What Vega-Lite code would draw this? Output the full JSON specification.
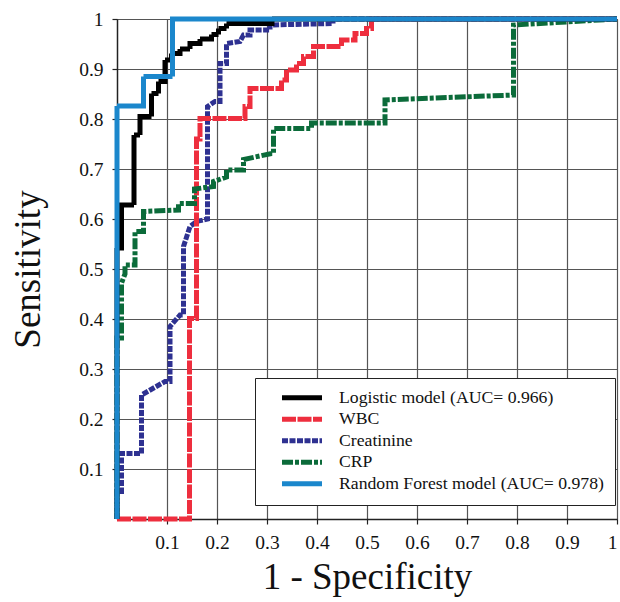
{
  "$schema": "https://vega.github.io/schema/vega-lite/v6.json",
  "width": 500,
  "height": 500,
  "autosize": "none",
  "padding": {"left": 117, "top": 19, "right": 3, "bottom": 83},
  "background": "white",
  "config": {
    "view": {"stroke": "#444", "strokeWidth": 1},
    "axis": {
      "labelFont": "Liberation Serif",
      "labelFontSize": 19.5,
      "labelColor": "#111",
      "titleFont": "Liberation Serif",
      "titleFontSize": 37,
      "titleFontWeight": "normal",
      "titleColor": "#111",
      "gridColor": "#555",
      "gridWidth": 1.2,
      "domainColor": "#222",
      "domainWidth": 1.5,
      "tickColor": "#222",
      "tickSize": 5,
      "tickWidth": 1.2
    },
    "legend": {
      "labelFont": "Liberation Serif",
      "labelFontSize": 17.7,
      "labelColor": "#111",
      "symbolType": "M-1.77,0H6.23",
      "symbolSize": 100,
      "symbolStrokeWidth": 5,
      "labelOffset": 39.3,
      "rowPadding": 0.5,
      "padding": 11,
      "strokeColor": "#222",
      "fillColor": "white",
      "labelLimit": 400,
      "titleOrient": "left",
      "titleFontSize": 8,
      "titlePadding": 16,
      "titleColor": "white"
    }
  },
  "datasets": {
    "roc": [
      {"s": "Logistic model (AUC= 0.966)", "i": 0, "x": 0, "y": 0},
      {"s": "Logistic model (AUC= 0.966)", "i": 1, "x": 0, "y": 0.542},
      {"s": "Logistic model (AUC= 0.966)", "i": 2, "x": 0.009, "y": 0.542},
      {"s": "Logistic model (AUC= 0.966)", "i": 3, "x": 0.009, "y": 0.628},
      {"s": "Logistic model (AUC= 0.966)", "i": 4, "x": 0.034, "y": 0.628},
      {"s": "Logistic model (AUC= 0.966)", "i": 5, "x": 0.034, "y": 0.768},
      {"s": "Logistic model (AUC= 0.966)", "i": 6, "x": 0.046, "y": 0.768},
      {"s": "Logistic model (AUC= 0.966)", "i": 7, "x": 0.046, "y": 0.805},
      {"s": "Logistic model (AUC= 0.966)", "i": 8, "x": 0.069, "y": 0.805},
      {"s": "Logistic model (AUC= 0.966)", "i": 9, "x": 0.069, "y": 0.851},
      {"s": "Logistic model (AUC= 0.966)", "i": 10, "x": 0.083, "y": 0.851},
      {"s": "Logistic model (AUC= 0.966)", "i": 11, "x": 0.083, "y": 0.875},
      {"s": "Logistic model (AUC= 0.966)", "i": 12, "x": 0.096, "y": 0.875},
      {"s": "Logistic model (AUC= 0.966)", "i": 13, "x": 0.096, "y": 0.918},
      {"s": "Logistic model (AUC= 0.966)", "i": 14, "x": 0.109, "y": 0.918},
      {"s": "Logistic model (AUC= 0.966)", "i": 15, "x": 0.109, "y": 0.931},
      {"s": "Logistic model (AUC= 0.966)", "i": 16, "x": 0.126, "y": 0.931},
      {"s": "Logistic model (AUC= 0.966)", "i": 17, "x": 0.126, "y": 0.94},
      {"s": "Logistic model (AUC= 0.966)", "i": 18, "x": 0.146, "y": 0.94},
      {"s": "Logistic model (AUC= 0.966)", "i": 19, "x": 0.146, "y": 0.951},
      {"s": "Logistic model (AUC= 0.966)", "i": 20, "x": 0.166, "y": 0.951},
      {"s": "Logistic model (AUC= 0.966)", "i": 21, "x": 0.166, "y": 0.96},
      {"s": "Logistic model (AUC= 0.966)", "i": 22, "x": 0.189, "y": 0.96},
      {"s": "Logistic model (AUC= 0.966)", "i": 23, "x": 0.189, "y": 0.969},
      {"s": "Logistic model (AUC= 0.966)", "i": 24, "x": 0.203, "y": 0.969},
      {"s": "Logistic model (AUC= 0.966)", "i": 25, "x": 0.203, "y": 0.981},
      {"s": "Logistic model (AUC= 0.966)", "i": 26, "x": 0.219, "y": 0.981},
      {"s": "Logistic model (AUC= 0.966)", "i": 27, "x": 0.219, "y": 0.991},
      {"s": "Logistic model (AUC= 0.966)", "i": 28, "x": 0.31, "y": 0.991},
      {"s": "Logistic model (AUC= 0.966)", "i": 29, "x": 0.31, "y": 1},
      {"s": "Logistic model (AUC= 0.966)", "i": 30, "x": 1, "y": 1},

      {"s": "WBC", "i": 0, "x": 0, "y": 0},
      {"s": "WBC", "i": 1, "x": 0.145, "y": 0},
      {"s": "WBC", "i": 2, "x": 0.145, "y": 0.401},
      {"s": "WBC", "i": 3, "x": 0.159, "y": 0.401},
      {"s": "WBC", "i": 4, "x": 0.159, "y": 0.76},
      {"s": "WBC", "i": 5, "x": 0.166, "y": 0.76},
      {"s": "WBC", "i": 6, "x": 0.166, "y": 0.801},
      {"s": "WBC", "i": 7, "x": 0.256, "y": 0.801},
      {"s": "WBC", "i": 8, "x": 0.256, "y": 0.825},
      {"s": "WBC", "i": 9, "x": 0.266, "y": 0.825},
      {"s": "WBC", "i": 10, "x": 0.266, "y": 0.861},
      {"s": "WBC", "i": 11, "x": 0.329, "y": 0.861},
      {"s": "WBC", "i": 12, "x": 0.329, "y": 0.878},
      {"s": "WBC", "i": 13, "x": 0.339, "y": 0.878},
      {"s": "WBC", "i": 14, "x": 0.339, "y": 0.898},
      {"s": "WBC", "i": 15, "x": 0.359, "y": 0.898},
      {"s": "WBC", "i": 16, "x": 0.359, "y": 0.911},
      {"s": "WBC", "i": 17, "x": 0.373, "y": 0.911},
      {"s": "WBC", "i": 18, "x": 0.373, "y": 0.925},
      {"s": "WBC", "i": 19, "x": 0.393, "y": 0.925},
      {"s": "WBC", "i": 20, "x": 0.393, "y": 0.945},
      {"s": "WBC", "i": 21, "x": 0.449, "y": 0.945},
      {"s": "WBC", "i": 22, "x": 0.449, "y": 0.958},
      {"s": "WBC", "i": 23, "x": 0.476, "y": 0.958},
      {"s": "WBC", "i": 24, "x": 0.476, "y": 0.971},
      {"s": "WBC", "i": 25, "x": 0.499, "y": 0.971},
      {"s": "WBC", "i": 26, "x": 0.499, "y": 0.981},
      {"s": "WBC", "i": 27, "x": 0.509, "y": 0.981},
      {"s": "WBC", "i": 28, "x": 0.509, "y": 1},
      {"s": "WBC", "i": 29, "x": 1, "y": 1},

      {"s": "Creatinine", "i": 0, "x": 0, "y": 0},
      {"s": "Creatinine", "i": 1, "x": 0, "y": 0.055},
      {"s": "Creatinine", "i": 2, "x": 0.009, "y": 0.055},
      {"s": "Creatinine", "i": 3, "x": 0.009, "y": 0.131},
      {"s": "Creatinine", "i": 4, "x": 0.049, "y": 0.131},
      {"s": "Creatinine", "i": 5, "x": 0.049, "y": 0.248},
      {"s": "Creatinine", "i": 6, "x": 0.096, "y": 0.275},
      {"s": "Creatinine", "i": 7, "x": 0.106, "y": 0.275},
      {"s": "Creatinine", "i": 8, "x": 0.106, "y": 0.385},
      {"s": "Creatinine", "i": 9, "x": 0.126, "y": 0.408},
      {"s": "Creatinine", "i": 10, "x": 0.133, "y": 0.408},
      {"s": "Creatinine", "i": 11, "x": 0.133, "y": 0.545},
      {"s": "Creatinine", "i": 12, "x": 0.146, "y": 0.585},
      {"s": "Creatinine", "i": 13, "x": 0.159, "y": 0.595},
      {"s": "Creatinine", "i": 14, "x": 0.181, "y": 0.6},
      {"s": "Creatinine", "i": 15, "x": 0.181, "y": 0.825},
      {"s": "Creatinine", "i": 16, "x": 0.196, "y": 0.835},
      {"s": "Creatinine", "i": 17, "x": 0.206, "y": 0.835},
      {"s": "Creatinine", "i": 18, "x": 0.206, "y": 0.911},
      {"s": "Creatinine", "i": 19, "x": 0.219, "y": 0.911},
      {"s": "Creatinine", "i": 20, "x": 0.219, "y": 0.951},
      {"s": "Creatinine", "i": 21, "x": 0.246, "y": 0.955},
      {"s": "Creatinine", "i": 22, "x": 0.253, "y": 0.968},
      {"s": "Creatinine", "i": 23, "x": 0.266, "y": 0.968},
      {"s": "Creatinine", "i": 24, "x": 0.266, "y": 0.978},
      {"s": "Creatinine", "i": 25, "x": 0.306, "y": 0.978},
      {"s": "Creatinine", "i": 26, "x": 0.306, "y": 0.988},
      {"s": "Creatinine", "i": 27, "x": 0.432, "y": 0.991},
      {"s": "Creatinine", "i": 28, "x": 0.432, "y": 1},
      {"s": "Creatinine", "i": 29, "x": 1, "y": 1},

      {"s": "CRP", "i": 0, "x": 0, "y": 0},
      {"s": "CRP", "i": 1, "x": 0, "y": 0.362},
      {"s": "CRP", "i": 2, "x": 0.009, "y": 0.362},
      {"s": "CRP", "i": 3, "x": 0.009, "y": 0.472},
      {"s": "CRP", "i": 4, "x": 0.016, "y": 0.49},
      {"s": "CRP", "i": 5, "x": 0.016, "y": 0.508},
      {"s": "CRP", "i": 6, "x": 0.036, "y": 0.508},
      {"s": "CRP", "i": 7, "x": 0.036, "y": 0.575},
      {"s": "CRP", "i": 8, "x": 0.053, "y": 0.575},
      {"s": "CRP", "i": 9, "x": 0.053, "y": 0.615},
      {"s": "CRP", "i": 10, "x": 0.123, "y": 0.618},
      {"s": "CRP", "i": 11, "x": 0.123, "y": 0.631},
      {"s": "CRP", "i": 12, "x": 0.155, "y": 0.631},
      {"s": "CRP", "i": 13, "x": 0.155, "y": 0.66},
      {"s": "CRP", "i": 14, "x": 0.193, "y": 0.665},
      {"s": "CRP", "i": 15, "x": 0.193, "y": 0.675},
      {"s": "CRP", "i": 16, "x": 0.219, "y": 0.684},
      {"s": "CRP", "i": 17, "x": 0.219, "y": 0.698},
      {"s": "CRP", "i": 18, "x": 0.253, "y": 0.698},
      {"s": "CRP", "i": 19, "x": 0.253, "y": 0.719},
      {"s": "CRP", "i": 20, "x": 0.309, "y": 0.731},
      {"s": "CRP", "i": 21, "x": 0.313, "y": 0.731},
      {"s": "CRP", "i": 22, "x": 0.313, "y": 0.781},
      {"s": "CRP", "i": 23, "x": 0.389, "y": 0.781},
      {"s": "CRP", "i": 24, "x": 0.389, "y": 0.792},
      {"s": "CRP", "i": 25, "x": 0.536, "y": 0.792},
      {"s": "CRP", "i": 26, "x": 0.536, "y": 0.838},
      {"s": "CRP", "i": 27, "x": 0.793, "y": 0.848},
      {"s": "CRP", "i": 28, "x": 0.793, "y": 0.988},
      {"s": "CRP", "i": 29, "x": 1, "y": 1},

      {"s": "Random Forest model (AUC= 0.978)", "i": 0, "x": 0, "y": 0},
      {"s": "Random Forest model (AUC= 0.978)", "i": 1, "x": 0, "y": 0.826},
      {"s": "Random Forest model (AUC= 0.978)", "i": 2, "x": 0.053, "y": 0.826},
      {"s": "Random Forest model (AUC= 0.978)", "i": 3, "x": 0.053, "y": 0.885},
      {"s": "Random Forest model (AUC= 0.978)", "i": 4, "x": 0.111, "y": 0.885},
      {"s": "Random Forest model (AUC= 0.978)", "i": 5, "x": 0.111, "y": 1},
      {"s": "Random Forest model (AUC= 0.978)", "i": 6, "x": 1, "y": 1}
    ]
  },
  "data": {"name": "roc"},
  "encoding": {
    "x": {
      "field": "x", "type": "quantitative",
      "scale": {"domain": [0, 1], "nice": false},
      "axis": {"title": "1 - Specificity", "values": [0.1,0.2,0.3,0.4,0.5,0.6,0.7,0.8,0.9,1], "format": "~g", "labelPadding": 9, "titlePadding": 8, "labelFlush": true, "labelFlushOffset": 0}
    },
    "y": {
      "field": "y", "type": "quantitative",
      "scale": {"domain": [0, 1], "nice": false},
      "axis": {"title": "Sensitivity", "values": [0.1,0.2,0.3,0.4,0.5,0.6,0.7,0.8,0.9,1], "format": "~g", "labelPadding": 9, "titlePadding": 31, "labelFlush": false}
    },
    "color": {
      "field": "s", "type": "nominal",
      "scale": {
        "domain": ["Logistic model (AUC= 0.966)", "WBC", "Creatinine", "CRP", "Random Forest model (AUC= 0.978)"],
        "range": ["#000000", "#ee2e3e", "#2e3191", "#0b6b3a", "#1b87cc"]
      },
      "legend": {"title": "\u00a0", "orient": "none", "legendX": 138, "legendY": 359}
    },
    "strokeDash": {
      "field": "s", "type": "nominal",
      "scale": {
        "domain": ["Logistic model (AUC= 0.966)", "WBC", "Creatinine", "CRP", "Random Forest model (AUC= 0.978)"],
        "range": [[1, 0], [14, 1.5], [6, 1.5], [11, 2, 4, 2], [1, 0]]
      },
      "legend": {"title": "\u00a0", "orient": "none", "legendX": 138, "legendY": 359}
    },
    "order": {"field": "i", "type": "quantitative"}
  },
  "layer": [
    {"transform": [{"filter": {"field": "s", "equal": "Creatinine"}}], "mark": {"type": "line", "strokeWidth": 5, "strokeJoin": "miter", "strokeCap": "butt"}},
    {"transform": [{"filter": {"field": "s", "equal": "WBC"}}], "mark": {"type": "line", "strokeWidth": 5, "strokeJoin": "miter", "strokeCap": "butt"}},
    {"transform": [{"filter": {"field": "s", "equal": "CRP"}}], "mark": {"type": "line", "strokeWidth": 5, "strokeJoin": "miter", "strokeCap": "butt"}},
    {"transform": [{"filter": {"field": "s", "equal": "Logistic model (AUC= 0.966)"}}], "mark": {"type": "line", "strokeWidth": 5, "strokeJoin": "miter", "strokeCap": "butt"}},
    {"transform": [{"filter": {"field": "s", "equal": "Random Forest model (AUC= 0.978)"}}], "mark": {"type": "line", "strokeWidth": 5, "strokeJoin": "miter", "strokeCap": "butt"}}
  ]
}
